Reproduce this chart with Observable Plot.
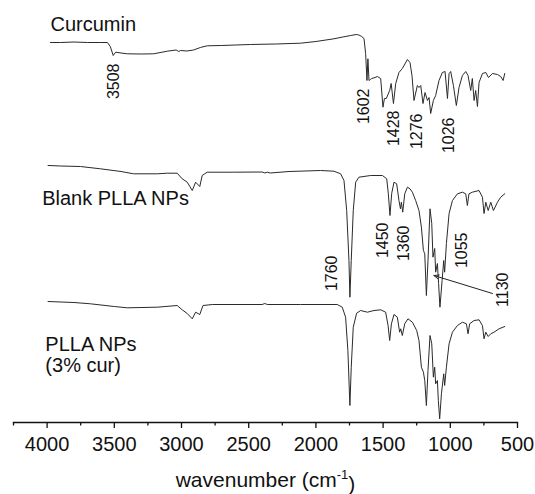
<!DOCTYPE html>
<html>
<head>
<meta charset="utf-8">
<script src="https://cdn.jsdelivr.net/npm/d3@7"></script>
<script src="https://cdn.jsdelivr.net/npm/@observablehq/plot@0.6"></script>
<style>
  html, body { margin: 0; padding: 0; background: #fff; }
  #chart { width: 535px; height: 494px; }
</style>
</head>
<body>
<div id="chart"></div>
<script>
// ---- Data (offset, absorbance-like units; larger = lower on chart) ----
const curcuminWn = [3975,3900,3800,3700,3600,3551,3530,3508,3490,3450,3404,3300,3208,3106,3040,3020,3007,2960,2910,2860,2809,2700,2600,2486,2300,2114,2000,1866,1800,1741,1700,1680,1660,1642,1630,1620,1613,1605,1595,1585,1560,1543,1518,1501,1490,1476,1451,1440,1423,1406,1382,1357,1319,1300,1285,1270,1245,1233,1220,1203,1188,1170,1158,1146,1126,1109,1084,1059,1039,1021,1009,997,977,955,935,910,885,868,848,836,823,811,798,786,761,736,716,686,649,625,607,595];
const curcuminA  = [42,42,41.5,42,42,42,46,55,51.7,52.5,53.3,53.5,53.3,50.7,49.5,51,50,50.5,49.5,47,45.3,45,44.5,44,43.5,42.7,41,38.3,36.5,35,34,34.5,36,38,53,80,58.3,80,79,78,77,76,78,106.7,98,98,90,83,103,83,72,68,59,62,75,100,85,87,85,103,92,100,97,113,100,95,80,72,71,98,73,71,85,105,87,75,71,75,90,78,100,90,106,82,73,72,77,73,74,76,80,73];

const blankWn = [3993,3900,3752,3603,3450,3357,3181,3106,3032,2995,2957,2920,2895,2864,2846,2809,2611,2400,2380,2362,2340,2200,1965,1866,1816,1791,1771,1754,1747,1737,1722,1704,1680,1593,1505,1473,1461,1449,1436,1419,1399,1382,1371,1364,1354,1339,1319,1300,1282,1258,1233,1215,1200,1190,1178,1166,1151,1138,1129,1116,1109,1096,1087,1077,1061,1049,1042,1029,1009,984,947,910,885,873,861,836,786,761,749,736,718,699,679,649,625,595];
const blankA  = [165,165.5,166,168.3,171,173.3,173.3,172.7,172.7,178.3,181.7,190,181.7,186,175,171.7,171.7,171.5,172.5,171.7,172.5,171,170,170.7,173.3,180,210,260,296.7,260,210,181.7,176.7,175,175,178.3,193.3,215,193,181.7,183.3,200,208.3,201.7,211.7,193.3,186.7,188.3,191.7,200,210,226.7,250,253.3,295,260,208.3,223,256.7,248,271.7,263,283,306.7,280,260,271.7,243,213,200,193.3,191.7,193.3,205,193.3,191.7,190,196.7,213,201.7,210,201.7,210,201.7,196.7,193.3];

const curWn = [3993,3800,3677,3500,3404,3181,3032,2995,2957,2920,2895,2864,2840,2770,2400,2380,2362,2114,1841,1804,1779,1762,1747,1737,1722,1697,1667,1617,1568,1518,1481,1463,1451,1438,1419,1394,1377,1369,1357,1339,1315,1282,1250,1233,1215,1200,1190,1178,1166,1151,1138,1126,1116,1109,1096,1089,1079,1066,1049,1042,1029,1009,984,947,910,880,868,856,823,786,761,749,736,718,699,675,637,595];
const curA  = [301,302,303.3,306,307.3,306.7,305,309.3,313,318.3,311.7,314,305,304,304,303,304,304,304,306.7,316.7,350,405,366.7,326.7,312.7,310,311.7,310,309.3,311.7,325,340,323.3,314,316.7,331.7,328.3,335,323.3,318.3,321.7,330,340,366.7,371.7,380,405,370,335,343.3,376.7,366.7,383.3,380,400,418.3,393.3,373.3,385,366.7,343.3,331.7,325,321.7,323.3,333.3,323.3,320,319.3,325,338.3,331.7,336,333.3,331.7,328.3,326];

const seriesNames = ["Curcumin", "Blank PLLA NPs", "PLLA NPs\n(3% cur)"];
const seriesNameWn = [3975, 4037, 4013];
const seriesNameA  = [30, 204, 371];

const peakLabels = ["3508","1602","1428","1276","1026","1760","1450","1360","1055","1130"];
const peakLabelWn = [3506,1646,1421,1251,1010,1884,1498,1342,917,612];
const peakLabelA  = [63,88,110,113,117,255,222,225,232,272];

const arrowFrom = {wn: 686, a: 293};
const arrowTo   = {wn: 1122, a: 275};

const majorTicks = [4000,3500,3000,2500,2000,1500,1000,500];
const minorTicks = [4250,3750,3250,2750,2250,1750,1250,750];
const xTitle = "wavenumber (cm-1)";

// ---- Build tables ----
const toRows = (wn, a, name) => wn.map((w, i) => ({wn: w, a: a[i], name}));
const rows = [
  ...toRows(curcuminWn, curcuminA, "Curcumin"),
  ...toRows(blankWn, blankA, "Blank"),
  ...toRows(curWn, curA, "Cur")
];
const nameRows = seriesNames.map((t, i) => ({t, wn: seriesNameWn[i], a: seriesNameA[i]}));
const peakRows = peakLabels.map((t, i) => ({t, wn: peakLabelWn[i], a: peakLabelA[i]}));

const chart = Plot.plot({
  width: 535,
  height: 494,
  marginLeft: 13,
  marginRight: 18,
  marginTop: 0,
  marginBottom: 72,
  style: {fontFamily: "'Liberation Sans', Arial, sans-serif", color: "#111", background: "#fff"},
  x: {domain: [4250, 500], axis: null},
  y: {domain: [0, 422], range: [0, 422], axis: null},
  marks: [
    Plot.line(rows, {x: "wn", y: "a", z: "name", stroke: "#2a2a2a", strokeWidth: 1, curve: "linear"}),
    Plot.frame({anchor: "bottom", stroke: "#111", strokeWidth: 1.3}),
    Plot.axisX({ticks: majorTicks, tickSize: 6, tickPadding: 8, fontSize: 20, tickFormat: d3.format("d"), label: null, stroke: "#111", strokeWidth: 1.3}),
    Plot.axisX({ticks: minorTicks, tickSize: 3.5, tickFormat: () => "", label: null, stroke: "#111", strokeWidth: 1.3}),
    Plot.text([xTitle], {frameAnchor: "bottom", dy: 64, lineAnchor: "bottom", fontSize: 21, fill: "#111"}),
    Plot.text(nameRows, {x: "wn", y: "a", text: "t", textAnchor: "start", lineAnchor: "bottom", lineHeight: 1.05, fontSize: 20, fill: "#111"}),
    Plot.text(peakRows, {x: "wn", y: "a", text: "t", rotate: -90, textAnchor: "end", lineAnchor: "middle", fontSize: 16, fill: "#111"}),
    Plot.arrow([0], {x1: () => arrowFrom.wn, y1: () => arrowFrom.a, x2: () => arrowTo.wn, y2: () => arrowTo.a, stroke: "#222", strokeWidth: 1, headLength: 8, headAngle: 45})
  ]
});

document.getElementById("chart").appendChild(chart);

// superscript in the axis title
d3.select(chart).selectAll("text").filter(function() { return this.textContent === xTitle; })
  .each(function() {
    const t = d3.select(this);
    t.text(null);
    t.append("tspan").text("wavenumber (cm");
    t.append("tspan").attr("dy", "-0.55em").attr("font-size", "13px").text("-1");
    t.append("tspan").attr("dy", "0.55em").text(")");
  });
</script>
</body>
</html>
